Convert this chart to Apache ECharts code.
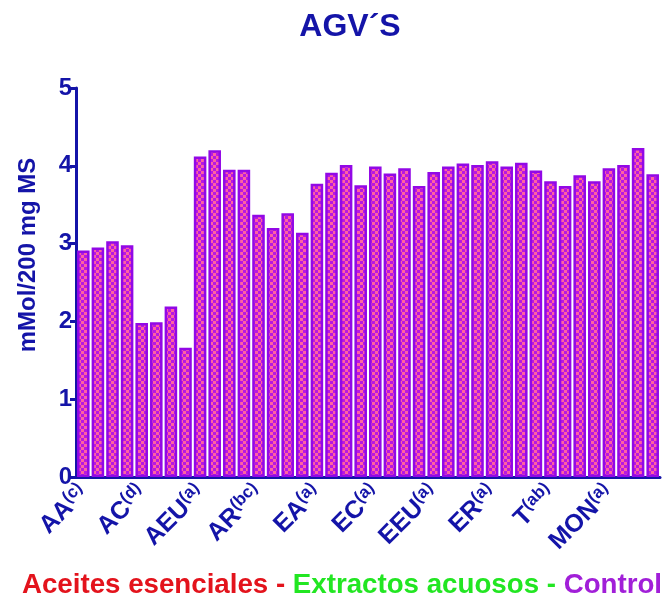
<!DOCTYPE html>
<html>
<head>
<meta charset="utf-8">
<script src="https://cdn.jsdelivr.net/npm/echarts@6/dist/echarts.min.js"></script>
<style>
  html, body { margin: 0; padding: 0; background: #ffffff; }
  #chart { width: 667px; height: 613px; }
</style>
</head>
<body>
<div id="chart"></div>
<script>
// Treatments (four replicate bars each) and their significance letters
const treatments = ['AA', 'AC', 'AEU', 'AR', 'EA', 'EC', 'EEU', 'ER', 'T', 'MON'];
const letters = ['c', 'd', 'a', 'bc', 'a', 'a', 'a', 'a', 'ab', 'a'];
const barsPerTreatment = 4;

// Total VFA, mMol/200 mg DM, one value per bar
const agv = [
  2.91, 2.95, 3.03, 2.98,
  1.98, 1.99, 2.19, 1.66,
  4.12, 4.20, 3.95, 3.95,
  3.37, 3.20, 3.39, 3.14,
  3.77, 3.91, 4.01, 3.75,
  3.99, 3.90, 3.97, 3.74,
  3.92, 3.99, 4.03, 4.01,
  4.06, 3.99, 4.04, 3.94,
  3.80, 3.74, 3.88, 3.80,
  3.97, 4.01, 4.23, 3.89
];

const yTicks = [0, 1, 2, 3, 4, 5];

const navy = '#1414a8';
const font = 'Liberation Sans, Arial, sans-serif';

// One category per bar; the label shows on the first bar of each treatment
const categories = [];
treatments.forEach((t, i) => {
  for (let k = 0; k < barsPerTreatment; k++) categories.push(t + '|' + letters[i] + '|' + k);
});

// Checkered pink/magenta fill
const tile = document.createElement('canvas');
tile.width = 6; tile.height = 6;
const tc = tile.getContext('2d');
tc.fillStyle = '#b818e2';
tc.fillRect(0, 0, 6, 6);
tc.fillStyle = '#ff62a0';
tc.fillRect(0, 0, 3, 3);
tc.fillRect(3, 3, 3, 3);

const chart = echarts.init(document.getElementById('chart'), null, { renderer: 'canvas' });

chart.setOption({
  animation: false,
  backgroundColor: '#ffffff',
  title: {
    text: 'AGV\u00B4S',
    left: 345,
    top: 6,
    textAlign: 'center',
    textStyle: { color: navy, fontFamily: font, fontWeight: 'bold', fontSize: 32 }
  },
  grid: { left: 76, right: 7, top: 88, bottom: 136, containLabel: false },
  xAxis: {
    type: 'category',
    data: categories,
    boundaryGap: true,
    axisLine: { lineStyle: { color: navy, width: 3 } },
    axisTick: { alignWithLabel: true, interval: 0, length: 6, lineStyle: { color: navy, width: 3 } },
    axisLabel: {
      interval: barsPerTreatment - 1,
      rotate: 45,
      margin: 12,
      color: navy,
      formatter: function (v) {
        const p = v.split('|');
        return '{n|' + p[0] + '}{s|(' + p[1] + ')}';
      },
      rich: {
        n: { color: navy, fontFamily: font, fontWeight: 'bold', fontSize: 25, verticalAlign: 'bottom' },
        s: { color: navy, fontFamily: font, fontWeight: 'bold', fontSize: 17, verticalAlign: 'top', padding: [0, 0, 10, 0] }
      }
    },
    splitLine: { show: false }
  },
  yAxis: {
    type: 'value',
    min: yTicks[0],
    max: yTicks[yTicks.length - 1],
    interval: 1,
    axisLine: { show: true, lineStyle: { color: navy, width: 3 } },
    axisTick: { show: true, length: 6, lineStyle: { color: navy, width: 3 } },
    axisLabel: { color: navy, fontFamily: font, fontWeight: 'bold', fontSize: 24, margin: 4 },
    splitLine: { show: false }
  },
  series: [{
    type: 'bar',
    data: agv,
    barCategoryGap: '14%',
    itemStyle: {
      color: { image: tile, repeat: 'repeat' },
      borderColor: '#9208e6',
      borderWidth: 2.5
    }
  }],
  graphic: [
    {
      type: 'text',
      x: 28,
      y: 255,
      rotation: Math.PI / 2,
      style: {
        text: 'mMol/200 mg MS',
        fill: navy,
        font: 'bold 24px "Liberation Sans", Arial, sans-serif',
        align: 'center',
        verticalAlign: 'middle'
      }
    },
    {
      type: 'text',
      x: 342,
      y: 585,
      style: {
        text: '{r|Aceites esenciales - }{g|Extractos acuosos - }{p|Control}',
        align: 'center',
        verticalAlign: 'middle',
        rich: {
          r: { fill: '#e3131c', fontFamily: font, fontWeight: 'bold', fontSize: 27.7 },
          g: { fill: '#22e622', fontFamily: font, fontWeight: 'bold', fontSize: 27.7 },
          p: { fill: '#a11fd8', fontFamily: font, fontWeight: 'bold', fontSize: 27.7 }
        }
      }
    }
  ]
});
</script>
</body>
</html>
